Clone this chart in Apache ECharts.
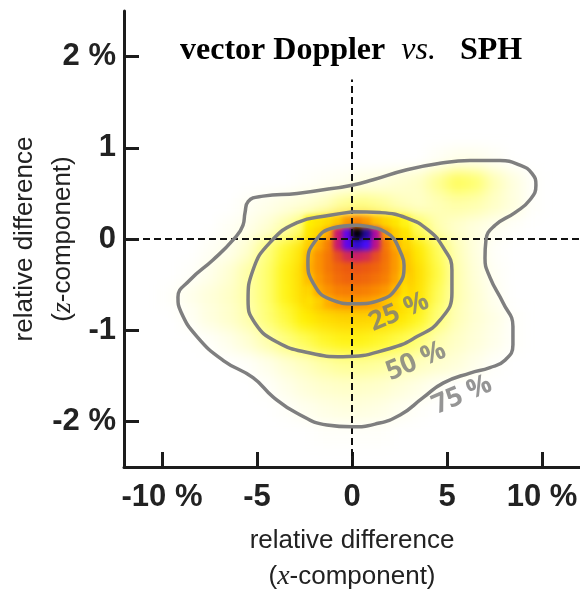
<!DOCTYPE html>
<html>
<head>
<meta charset="utf-8">
<script src="https://cdn.jsdelivr.net/npm/echarts@6.0.0/dist/echarts.min.js"></script>
<style>
  html, body { margin: 0; padding: 0; background: #fff; }
  #wrap { position: relative; width: 580px; height: 592px; }
  #heat, #core, #main { position: absolute; left: 0; top: 0; width: 580px; height: 592px; }
  #heat { filter: blur(7px); }
  #core { filter: blur(2.5px); }
</style>
</head>
<body>
<div id="wrap"><div id="heat"></div><div id="core"></div><div id="main"></div></div>
<script>
// tick values and labels
var xTicks = [-10, -5, 0, 5, 10];
var xTickLabels = ['-10 %', '-5', '0', '5', '10 %'];
var yTicks = [-2, -1, 0, 1, 2];
var yTickLabels = ['-2 %', '-1', '0', '1', '2 %'];

// density, coarse cells (1 % x 0.25 %) (0..100)
var coarseX = [-9.5, -8.5, -7.5, -6.5, -5.5, -4.5, -3.5, -2.5, -1.5, -0.5, 0.5, 1.5, 2.5, 3.5, 4.5, 5.5, 6.5, 7.5, 8.5, 9.5];
var coarseY = [0.875, 0.625, 0.375, 0.125, -0.125, -0.375, -0.625, -0.875, -1.125, -1.375, -1.625, -1.875, -2.125];
var coarseDensity = [
  [0, 0, 0, 0, 0, 0, 0, 0, 0, 0, 0, 0, 0, 0, 2, 4, 4, 2, 0, 0],
  [0, 0, 0, 0, 0, 0, 0, 1, 2, 3, 5, 6, 8, 10, 16, 22, 20, 12, 6, 1],
  [0, 0, 0, 0, 2, 4, 6, 8, 11, 16, 18, 16, 12, 10, 12, 14, 13, 10, 6, 1],
  [0, 0, 0, 2, 4, 8, 14, 22, 32, 50, 55, 40, 30, 22, 13, 9, 6, 3, 1, 0],
  [0, 0, 2, 4, 9, 18, 26, 36, 55, 68, 70, 60, 45, 32, 22, 12, 6, 1, 0, 0],
  [0, 1, 4, 8, 14, 20, 28, 40, 62, 68, 68, 64, 50, 36, 24, 13, 7, 2, 0, 0],
  [1, 4, 7, 10, 14, 20, 28, 38, 52, 60, 60, 56, 44, 34, 22, 13, 8, 3, 0, 0],
  [0, 2, 6, 9, 13, 19, 24, 30, 36, 40, 40, 38, 33, 27, 19, 12, 8, 5, 1, 0],
  [0, 0, 1, 4, 8, 13, 18, 22, 26, 28, 28, 26, 23, 19, 13, 10, 7, 4, 1, 0],
  [0, 0, 0, 0, 1, 4, 8, 11, 14, 16, 16, 15, 13, 11, 9, 7, 4, 1, 0, 0],
  [0, 0, 0, 0, 0, 1, 4, 7, 9, 10, 10, 9, 7, 5, 2, 0, 0, 0, 0, 0],
  [0, 0, 0, 0, 0, 0, 1, 3, 5, 6, 6, 5, 3, 1, 0, 0, 0, 0, 0, 0],
  [0, 0, 0, 0, 0, 0, 0, 0, 1, 1, 1, 1, 0, 0, 0, 0, 0, 0, 0, 0]
];

// density near the peak, finer cells (0.5 % x 0.125 %)
var coreX = [-2.25, -1.75, -1.25, -0.75, -0.25, 0.25, 0.75, 1.25, 1.75, 2.25, 2.75];
var coreY = [0.1875, 0.0625, -0.0625, -0.1875, -0.3125, -0.4375, -0.5625, -0.6875];
var coreDensity = [
  [30, 34, 38, 44, 56, 62, 56, 46, 40, 34, 28],
  [34, 40, 52, 80, 92, 100, 97, 84, 56, 42, 34],
  [42, 52, 62, 80, 92, 96, 94, 82, 64, 52, 40],
  [48, 58, 64, 72, 77, 79, 77, 72, 65, 56, 44],
  [50, 58, 64, 68, 70, 71, 70, 68, 64, 56, 44],
  [46, 56, 62, 66, 68, 68, 67, 65, 62, 54, 40],
  [40, 52, 58, 62, 63, 63, 62, 60, 56, 48, 36],
  [36, 42, 50, 55, 56, 56, 55, 52, 46, 40, 32]
];

// contour lines [x, z]
var contour25 = [
  [0.21, 0.15], [1.74, 0.08], [2.63, -0.18], [2.74, -0.29], [2.37, -0.53], [1.47, -0.67],
  [0.21, -0.71], [-1.16, -0.66], [-2.05, -0.48], [-2.32, -0.25], [-1.89, -0.01], [-1.0, 0.12], [0.21, 0.15]
];
var contour50 = [
  [0.05, 0.30], [-1.16, 0.26], [-2.89, 0.18], [-4.32, -0.04], [-5.21, -0.34], [-5.47, -0.67],
  [-5.11, -0.92], [-3.95, -1.13], [-2.21, -1.25], [-0.47, -1.29], [2.0, -1.20], [3.42, -1.07],
  [4.63, -0.89], [5.26, -0.59], [5.26, -0.34], [4.79, -0.09], [4.0, 0.10], [2.89, 0.23], [1.47, 0.29], [0.05, 0.30]
];
var contour75 = [
  [-1.16, 0.55], [0.0, 0.59], [1.11, 0.65], [2.89, 0.76], [4.63, 0.83], [6.21, 0.86], [7.79, 0.86],
  [8.84, 0.81], [9.47, 0.72], [9.68, 0.59], [9.37, 0.43], [8.58, 0.29], [7.53, 0.15], [7.05, -0.01],
  [7.0, -0.21], [7.26, -0.42], [7.95, -0.70], [8.47, -0.96], [8.47, -1.16], [8.05, -1.33], [7.26, -1.41],
  [6.21, -1.47], [4.79, -1.58], [3.74, -1.74], [2.53, -1.93], [1.21, -2.03], [0.0, -2.06], [-1.32, -2.04],
  [-2.89, -1.91], [-4.16, -1.73], [-5.21, -1.52], [-6.79, -1.33], [-8.16, -1.07], [-9.0, -0.80],
  [-9.16, -0.64], [-8.53, -0.45], [-7.32, -0.23], [-6.26, -0.01], [-5.74, 0.15], [-5.63, 0.29],
  [-5.47, 0.41], [-4.68, 0.47], [-2.89, 0.50], [-1.16, 0.55]
];
var contourLabels = ['25 %', '50 %', '75 %'];
var contourLabelAt = [[2.47, -0.80], [3.37, -1.34], [5.79, -1.71]];

// dashed zero lines
var zeroLineV = [[0, -2.5], [0, 1.75]];
var zeroLineH = [[-11, 0], [12, 0]];

// colour ramp, one stop every 5 density units
var heatColors = ['#ffffff', '#ffffe6', '#ffffc8', '#ffffa0', '#ffff70', '#fffa38', '#fff000',
                  '#ffe200', '#ffd400', '#ffc200', '#ffae00', '#fd9c00', '#fa8a00', '#f37208',
                  '#ec5a10', '#dc3a40', '#c81870', '#a808b0', '#7a00e0', '#3a10ff', '#000000'];

function cells(xs, ys, rows) {
  var out = [];
  for (var j = 0; j < ys.length; j++) {
    for (var i = 0; i < xs.length; i++) {
      out.push([xs[i], ys[j], rows[j][i]]);
    }
  }
  return out;
}

function cellItem(w, h) {
  return function (params, api) {
    var corner = api.coord([api.value(0) - w / 2, api.value(1) + h / 2]);
    var size = api.size([w, h]);
    return {
      type: 'rect',
      shape: { x: corner[0], y: corner[1], width: size[0] + 0.5, height: size[1] + 0.5 },
      style: { fill: api.visual('color') }
    };
  };
}

var gridBox = { left: 124, top: 11, width: 456, height: 456, outerBoundsMode: 'none' };

function heatOption(series) {
  return {
    animation: false,
    grid: gridBox,
    xAxis: { type: 'value', min: -12, max: 12, show: false },
    yAxis: { type: 'value', min: -2.5, max: 2.5, show: false },
    visualMap: {
      type: 'continuous', show: false, min: 0, max: 100, dimension: 2,
      inRange: { color: heatColors }
    },
    series: [series]
  };
}

// bottom layers: density map (wide part, then the peak)
echarts.init(document.getElementById('heat')).setOption(heatOption(
  { type: 'custom', renderItem: cellItem(1, 0.25), encode: { x: 0, y: 1 },
    data: cells(coarseX, coarseY, coarseDensity) }
));
echarts.init(document.getElementById('core')).setOption(heatOption(
  { type: 'custom', renderItem: cellItem(0.5, 0.125), encode: { x: 0, y: 1 },
    data: cells(coreX, coreY, coreDensity) }
));

// top layer: axes, contours, text
var axisColor = '#1c1c1c';
var textColor = '#222';
var myChart = echarts.init(document.getElementById('main'));
myChart.setOption({
  animation: false,
  title: {
    text: '{b|vector Doppler  }{i|vs.}{b|   SPH}',
    left: 180, top: 35, padding: 0,
    textStyle: {
      rich: {
        b: { fontFamily: 'Liberation Serif', fontWeight: 'bold', fontSize: 32, color: '#000' },
        i: { fontFamily: 'Liberation Serif', fontStyle: 'italic', fontWeight: 'normal', fontSize: 32, color: '#000' }
      }
    }
  },
  grid: gridBox,
  xAxis: {
    type: 'value', min: -12, max: 12,
    axisLine: { onZero: false, lineStyle: { color: axisColor, width: 3 } },
    axisTick: { inside: true, length: 15, customValues: xTicks, lineStyle: { color: axisColor, width: 3 } },
    axisLabel: {
      customValues: xTicks,
      formatter: function (v) { return xTickLabels[xTicks.indexOf(v)]; },
      fontFamily: 'Liberation Sans', fontWeight: 'bold', fontSize: 31, color: textColor, margin: 15
    },
    splitLine: { show: false },
    name: '{n|relative difference}\n{n|(}{i|x}{n|-component)}',
    nameLocation: 'middle', nameGap: 56,
    nameTextStyle: {
      rich: {
        n: { fontFamily: 'Liberation Sans', fontSize: 26, color: textColor, lineHeight: 36 },
        i: { fontFamily: 'Liberation Serif', fontStyle: 'italic', fontSize: 28, color: textColor, lineHeight: 36 }
      }
    }
  },
  yAxis: {
    type: 'value', min: -2.5, max: 2.5,
    axisLine: { onZero: false, lineStyle: { color: axisColor, width: 3 } },
    axisTick: { inside: true, length: 15, customValues: yTicks, lineStyle: { color: axisColor, width: 3 } },
    axisLabel: {
      customValues: yTicks,
      formatter: function (v) { return yTickLabels[yTicks.indexOf(v)]; },
      fontFamily: 'Liberation Sans', fontWeight: 'bold', fontSize: 31, color: textColor, margin: 8
    },
    splitLine: { show: false },
    name: '{n|relative difference}\n{n|(}{i|z}{n|-component)}',
    nameLocation: 'middle', nameRotate: 90, nameGap: 42, nameMoveOverlap: false,
    nameTextStyle: {
      rich: {
        n: { fontFamily: 'Liberation Sans', fontSize: 26, color: textColor, lineHeight: 38 },
        i: { fontFamily: 'Liberation Serif', fontStyle: 'italic', fontSize: 28, color: textColor, lineHeight: 38 }
      }
    }
  },
  series: [
    { type: 'line', data: zeroLineV, symbol: 'none', silent: true,
      lineStyle: { color: '#111', width: 2, type: [7, 4] } },
    { type: 'line', data: zeroLineH, symbol: 'none', silent: true,
      lineStyle: { color: '#111', width: 2, type: [7, 4] } },
    { type: 'line', data: contour25, symbol: 'none', smooth: 0.5,
      lineStyle: { color: '#7f7f7f', width: 3.5 } },
    { type: 'line', data: contour50, symbol: 'none', smooth: 0.5,
      lineStyle: { color: '#7f7f7f', width: 3.5 } },
    { type: 'line', data: contour75, symbol: 'none', smooth: 0.5,
      lineStyle: { color: '#7f7f7f', width: 3.5 } },
    {
      type: 'scatter', symbolSize: 0, itemStyle: { color: 'transparent' },
      data: contourLabelAt.map(function (p, i) { return { value: p, name: contourLabels[i] }; }),
      label: {
        show: true, position: 'inside', formatter: '{b}', rotate: 23,
        fontFamily: 'Open Sans', fontWeight: 'bold', fontSize: 27, color: '#7a7a7a'
      }
    }
  ]
});
</script>
</body>
</html>
